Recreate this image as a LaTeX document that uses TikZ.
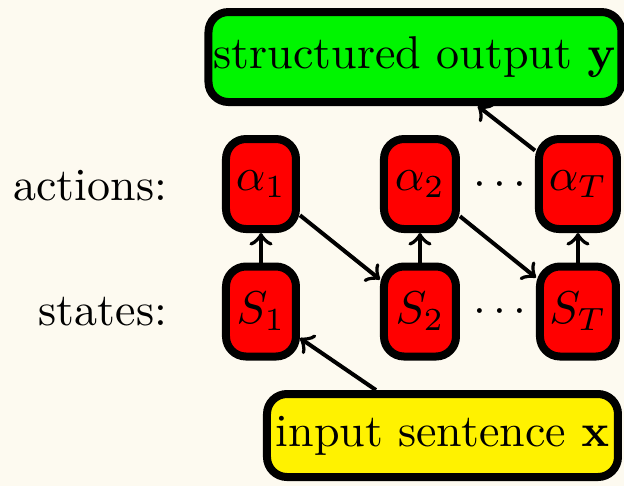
\documentclass[tikz,border=0pt]{standalone}
\def\px{0.2174pt}
\definecolor{paper}{RGB}{253,250,240}
\definecolor{boxgreen}{RGB}{0,245,0}
\definecolor{boxyellow}{RGB}{255,242,0}
\definecolor{boxred}{RGB}{255,0,0}
\tikzset{
  roundbox/.style={draw=black, line width=8*\px, rounded corners=20*\px,
    inner sep=0pt, align=center},
  cellbox/.style={roundbox, fill=boxred, minimum height=90*\px, minimum width=#1*\px},
  link/.style={->, line width=4*\px},
  rowlabel/.style={anchor=base east, inner sep=0pt}
}
\begin{document}
\begin{tikzpicture}[x=\px, y=-\px]
  \fill[paper] (0,0) rectangle (624,486);
  \useasboundingbox (0,0) rectangle (624,486);

  % output and input boxes
  \node[roundbox, fill=boxgreen, minimum width=413*\px, minimum height=90*\px]
    (out) at (415,57) {structured output $\mathbf{y}$};
  \node[roundbox, fill=boxyellow, minimum width=351*\px, minimum height=83*\px]
    (in) at (442.5,435.5) {input sentence $\mathbf{x}$};

  % actions row
  \node[cellbox=70] (a1) at (261,184) {$\alpha_1$};
  \node[cellbox=72] (a2) at (420,184) {$\alpha_2$};
  \node[cellbox=78] (aT) at (578,184) {$\alpha_T$};

  % states row
  \node[cellbox=70] (s1) at (261,311.5) {$S_1$};
  \node[cellbox=72] (s2) at (420,311.5) {$S_2$};
  \node[cellbox=76] (sT) at (578,311.5) {$S_T$};

  % ellipses between the second and last columns
  \node[inner sep=0pt] (adots) at (500,185) {$\cdots$};
  \node[inner sep=0pt] (sdots) at (500,312) {$\cdots$};

  % row labels
  \node[rowlabel] (alab) at (168,200) {actions:};
  \node[rowlabel] (slab) at (168,325) {states:};

  % connectors
  \draw[link] (in) -- (s1);
  \draw[link] (s1) -- (a1);
  \draw[link] (a1) -- (s2);
  \draw[link] (s2) -- (a2);
  \draw[link] (a2) -- (sT);
  \draw[link] (sT) -- (aT);
  \draw[link] (aT) -- (out);
\end{tikzpicture}
\end{document}
